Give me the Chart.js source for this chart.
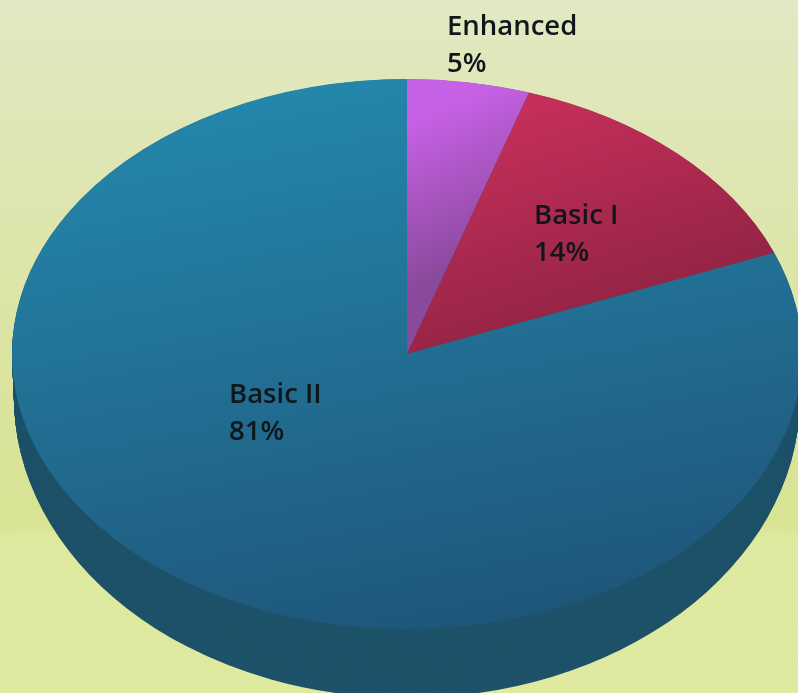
<!DOCTYPE html>
<html lang="en">
<head>
    <meta charset="UTF-8">
    <title>Pie chart</title>
    <style>
        * { box-sizing: border-box; margin: 0; padding: 0; }
        html, body { width: 798px; height: 693px; overflow: hidden; }
        body {
            background:
                radial-gradient(ellipse 1500px 176px at 400px 695px, #dfeaa0 0, #dee9a0 94%, rgba(222,233,160,0) 100%),
                linear-gradient(180deg, #e2e8c2 0, #dde5aa 260px, #d8e393 520px, #d8e393 693px);
        }
        canvas { display: block; filter: blur(0.6px); }
    </style>
</head>
<body>
<canvas id="pie" width="798" height="693"></canvas>
<script src="https://cdn.jsdelivr.net/npm/chart.js"></script>
<script>
    const categories = ['Enhanced', 'Basic I', 'Basic II'];
    const shares = [5, 14, 81];

    // light and dark end of each slice's sheen
    const lightColors = ['#c660e4', '#c72f5b', '#2487ab'];
    const darkColors = ['#8a4a9c', '#8a2240', '#1e5478'];
    const sideColor = '#1e5269';

    // the picture's pie: top face, and the slightly larger ellipse the wall ends on
    const pieX = 407, pieY = 354, pieRx = 395, pieRy = 275;
    const footY = 398, footRx = 393, footRy = 300, wallSteps = 60;

    // sheen direction per slice, in page pixels
    const sheen = [[430, 115, 540, 230], [490, 110, 650, 345], [300, 80, 520, 640]];
    const labelSpots = [[447, 35], [534, 224], [229, 403]];
    const lineGap = 37;

    function tilt(ctx, arc, cy, rx, ry) {
        ctx.translate(pieX, cy);
        ctx.scale(rx / arc.outerRadius, ry / arc.outerRadius);
        ctx.translate(-arc.x, -arc.y);
    }

    const tiltedPie = {
        id: 'tiltedPie',
        beforeDatasetsDraw(chart) {
            const ctx = chart.ctx;
            const arcs = chart.getDatasetMeta(0).data;
            // side wall: the slices stacked from the foot up to the top face
            arcs.forEach(arc => {
                const wall = Object.create(arc);
                wall.options = { ...arc.options, backgroundColor: sideColor };
                for (let s = wallSteps; s > 0; s--) {
                    const t = s / wallSteps;
                    ctx.save();
                    tilt(ctx, arc, pieY + (footY - pieY) * t, pieRx + (footRx - pieRx) * t, pieRy + (footRy - pieRy) * t);
                    wall.draw(ctx);
                    ctx.restore();
                }
            });
            ctx.save();
            tilt(ctx, arcs[0], pieY, pieRx, pieRy);
        },
        afterDatasetsDraw(chart) {
            const ctx = chart.ctx;
            ctx.restore();
            ctx.save();
            ctx.font = '600 27.5px "Open Sans"';
            ctx.fillStyle = '#0f171a';
            ctx.textAlign = 'left';
            ctx.textBaseline = 'alphabetic';
            categories.forEach((name, i) => {
                ctx.fillText(name, labelSpots[i][0], labelSpots[i][1]);
                ctx.fillText(shares[i] + '%', labelSpots[i][0], labelSpots[i][1] + lineGap);
            });
            ctx.restore();
        }
    };

    new Chart(document.getElementById('pie'), {
        type: 'pie',
        data: {
            labels: categories,
            datasets: [{
                data: shares,
                borderWidth: 0,
                clip: false,
                backgroundColor(c) {
                    const i = c.dataIndex;
                    const area = c.chart.chartArea;
                    if (!area) return lightColors[i];
                    // same centre and radius the pie gets, mapped back from page pixels
                    const r = Math.min(area.width, area.height) / 2;
                    const cx = (area.left + area.right) / 2;
                    const cy = (area.top + area.bottom) / 2;
                    const mapX = x => cx + (x - pieX) * r / pieRx;
                    const mapY = y => cy + (y - pieY) * r / pieRy;
                    const g = c.chart.ctx.createLinearGradient(mapX(sheen[i][0]), mapY(sheen[i][1]), mapX(sheen[i][2]), mapY(sheen[i][3]));
                    g.addColorStop(0, lightColors[i]);
                    g.addColorStop(1, darkColors[i]);
                    return g;
                }
            }]
        },
        options: {
            responsive: false,
            animation: false,
            layout: { padding: 0 },
            plugins: { legend: { display: false }, tooltip: { enabled: false } }
        },
        plugins: [tiltedPie]
    });
</script>
</body>
</html>
